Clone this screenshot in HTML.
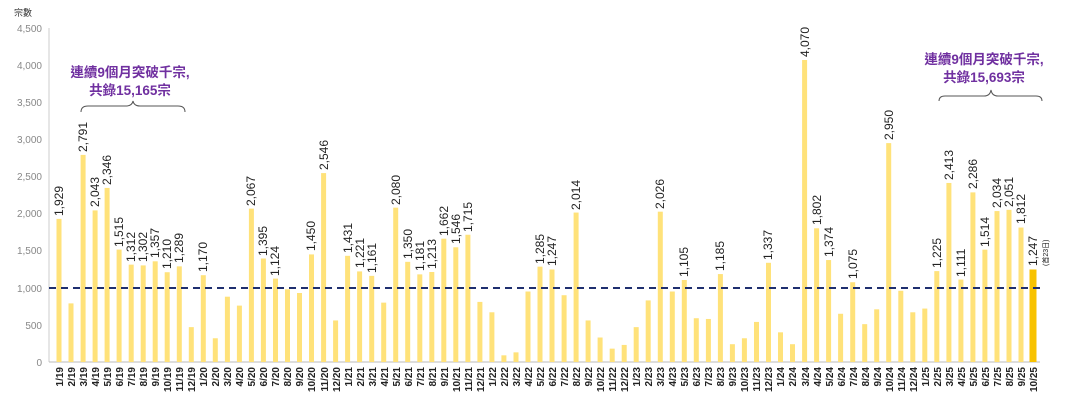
<!DOCTYPE html>
<html><head><meta charset="utf-8"><style>
html,body{margin:0;padding:0;background:#fff;width:1080px;height:420px;overflow:hidden}
svg{display:block;font-family:"Liberation Sans","Noto Sans CJK TC",sans-serif}
.v{font-size:12px;fill:#222;text-anchor:start}
.x{font-size:10px;fill:#222;font-weight:bold;text-anchor:end}
.y{font-size:10px;fill:#888;text-anchor:end}
.a{font-size:13.5px;fill:#7030a0;font-weight:bold;text-anchor:middle}
</style></head><body>
<svg width="1080" height="420" viewBox="0 0 1080 420">
<text x="14" y="16" style="font-size:9px;fill:#333">宗數</text>
<g class="y">
<text x="42" y="32">4,500</text><text x="42" y="69">4,000</text><text x="42" y="106">3,500</text>
<text x="42" y="143">3,000</text><text x="42" y="180">2,500</text><text x="42" y="217">2,000</text>
<text x="42" y="254">1,500</text><text x="42" y="292">1,000</text><text x="42" y="329">500</text>
<text x="42" y="366">0</text></g>
<line x1="49" y1="28" x2="49" y2="362" stroke="#ccc"/>
<line x1="49" y1="362" x2="1040" y2="362" stroke="#bbb"/>
<g transform="translate(0,362) scale(1,-0.0742)" fill="#ffe27a">
<rect x="56.5" width="5" height="1929"/><rect x="68.5" width="5" height="790"/><rect x="80.6" width="5" height="2791"/><rect x="92.6" width="5" height="2043"/><rect x="104.6" width="5" height="2346"/><rect x="116.6" width="5" height="1515"/><rect x="128.7" width="5" height="1312"/><rect x="140.7" width="5" height="1302"/><rect x="152.7" width="5" height="1357"/><rect x="164.7" width="5" height="1210"/><rect x="176.8" width="5" height="1289"/><rect x="188.8" width="5" height="470"/>
<rect x="200.8" width="5" height="1170"/><rect x="212.8" width="5" height="320"/><rect x="224.9" width="5" height="880"/><rect x="236.9" width="5" height="760"/><rect x="248.9" width="5" height="2067"/><rect x="260.9" width="5" height="1395"/><rect x="273" width="5" height="1124"/><rect x="285" width="5" height="980"/><rect x="297" width="5" height="930"/><rect x="309" width="5" height="1450"/><rect x="321.1" width="5" height="2546"/><rect x="333.1" width="5" height="560"/>
<rect x="345.1" width="5" height="1431"/><rect x="357.1" width="5" height="1221"/><rect x="369.2" width="5" height="1161"/><rect x="381.2" width="5" height="800"/><rect x="393.2" width="5" height="2080"/><rect x="405.2" width="5" height="1350"/><rect x="417.3" width="5" height="1181"/><rect x="429.3" width="5" height="1213"/><rect x="441.3" width="5" height="1662"/><rect x="453.3" width="5" height="1546"/><rect x="465.4" width="5" height="1715"/><rect x="477.4" width="5" height="810"/>
<rect x="489.4" width="5" height="670"/><rect x="501.4" width="5" height="90"/><rect x="513.5" width="5" height="130"/><rect x="525.5" width="5" height="950"/><rect x="537.5" width="5" height="1285"/><rect x="549.5" width="5" height="1247"/><rect x="561.6" width="5" height="900"/><rect x="573.6" width="5" height="2014"/><rect x="585.6" width="5" height="560"/><rect x="597.6" width="5" height="330"/><rect x="609.7" width="5" height="180"/><rect x="621.7" width="5" height="230"/>
<rect x="633.7" width="5" height="470"/><rect x="645.7" width="5" height="830"/><rect x="657.8" width="5" height="2026"/><rect x="669.8" width="5" height="950"/><rect x="681.8" width="5" height="1105"/><rect x="693.8" width="5" height="590"/><rect x="705.9" width="5" height="580"/><rect x="717.9" width="5" height="1185"/><rect x="729.9" width="5" height="240"/><rect x="741.9" width="5" height="320"/><rect x="754" width="5" height="540"/><rect x="766" width="5" height="1337"/>
<rect x="778" width="5" height="400"/><rect x="790" width="5" height="240"/><rect x="802.1" width="5" height="4070"/><rect x="814.1" width="5" height="1802"/><rect x="826.1" width="5" height="1374"/><rect x="838.1" width="5" height="650"/><rect x="850.2" width="5" height="1075"/><rect x="862.2" width="5" height="510"/><rect x="874.2" width="5" height="710"/><rect x="886.2" width="5" height="2950"/><rect x="898.3" width="5" height="960"/><rect x="910.3" width="5" height="670"/>
<rect x="922.3" width="5" height="720"/><rect x="934.3" width="5" height="1225"/><rect x="946.4" width="5" height="2413"/><rect x="958.4" width="5" height="1111"/><rect x="970.4" width="5" height="2286"/><rect x="982.4" width="5" height="1514"/><rect x="994.5" width="5" height="2034"/><rect x="1006.5" width="5" height="2051"/><rect x="1018.5" width="5" height="1812"/><rect x="1029.5" width="7" height="1247" fill="#f8c200"/>
</g>
<line x1="49" y1="288" x2="1040" y2="288" stroke="#1f2f6f" stroke-width="2" stroke-dasharray="7,5"/>
<g class="v">
<text transform="translate(63,216) rotate(-90)">1,929</text>
<text transform="translate(87,152) rotate(-90)">2,791</text>
<text transform="translate(99,207) rotate(-90)">2,043</text>
<text transform="translate(111,185) rotate(-90)">2,346</text>
<text transform="translate(123,247) rotate(-90)">1,515</text>
<text transform="translate(135,262) rotate(-90)">1,312</text>
<text transform="translate(147,262) rotate(-90)">1,302</text>
<text transform="translate(159,258) rotate(-90)">1,357</text>
<text transform="translate(171,269) rotate(-90)">1,210</text>
<text transform="translate(183,263) rotate(-90)">1,289</text>
<text transform="translate(207,272) rotate(-90)">1,170</text>
<text transform="translate(255,206) rotate(-90)">2,067</text>
<text transform="translate(267,256) rotate(-90)">1,395</text>
<text transform="translate(279,276) rotate(-90)">1,124</text>
<text transform="translate(315,251) rotate(-90)">1,450</text>
<text transform="translate(328,170) rotate(-90)">2,546</text>
<text transform="translate(352,253) rotate(-90)">1,431</text>
<text transform="translate(364,268) rotate(-90)">1,221</text>
<text transform="translate(376,273) rotate(-90)">1,161</text>
<text transform="translate(400,205) rotate(-90)">2,080</text>
<text transform="translate(412,259) rotate(-90)">1,350</text>
<text transform="translate(424,271) rotate(-90)">1,181</text>
<text transform="translate(436,269) rotate(-90)">1,213</text>
<text transform="translate(448,236) rotate(-90)">1,662</text>
<text transform="translate(460,244) rotate(-90)">1,546</text>
<text transform="translate(472,232) rotate(-90)">1,715</text>
<text transform="translate(544,264) rotate(-90)">1,285</text>
<text transform="translate(556,266) rotate(-90)">1,247</text>
<text transform="translate(580,210) rotate(-90)">2,014</text>
<text transform="translate(664,209) rotate(-90)">2,026</text>
<text transform="translate(688,277) rotate(-90)">1,105</text>
<text transform="translate(724,271) rotate(-90)">1,185</text>
<text transform="translate(772,260) rotate(-90)">1,337</text>
<text transform="translate(809,57) rotate(-90)">4,070</text>
<text transform="translate(821,225) rotate(-90)">1,802</text>
<text transform="translate(833,257) rotate(-90)">1,374</text>
<text transform="translate(857,279) rotate(-90)">1,075</text>
<text transform="translate(893,140) rotate(-90)">2,950</text>
<text transform="translate(941,268) rotate(-90)">1,225</text>
<text transform="translate(953,180) rotate(-90)">2,413</text>
<text transform="translate(965,277) rotate(-90)">1,111</text>
<text transform="translate(977,189) rotate(-90)">2,286</text>
<text transform="translate(989,247) rotate(-90)">1,514</text>
<text transform="translate(1001,208) rotate(-90)">2,034</text>
<text transform="translate(1013,207) rotate(-90)">2,051</text>
<text transform="translate(1025,224) rotate(-90)">1,812</text>
<text transform="translate(1037,266) rotate(-90)">1,247</text>
<text transform="translate(1048,266) rotate(-90)" style="font-size:7px">(首23日)</text>
</g>
<g class="x">
<text transform="translate(63,367) rotate(-90)">1/19</text><text transform="translate(75,367) rotate(-90)">2/19</text><text transform="translate(87,367) rotate(-90)">3/19</text><text transform="translate(99,367) rotate(-90)">4/19</text><text transform="translate(111,367) rotate(-90)">5/19</text><text transform="translate(123,367) rotate(-90)">6/19</text><text transform="translate(135,367) rotate(-90)">7/19</text><text transform="translate(147,367) rotate(-90)">8/19</text><text transform="translate(159,367) rotate(-90)">9/19</text><text transform="translate(171,367) rotate(-90)">10/19</text><text transform="translate(183,367) rotate(-90)">11/19</text><text transform="translate(195,367) rotate(-90)">12/19</text>
<text transform="translate(207,367) rotate(-90)">1/20</text><text transform="translate(219,367) rotate(-90)">2/20</text><text transform="translate(231,367) rotate(-90)">3/20</text><text transform="translate(243,367) rotate(-90)">4/20</text><text transform="translate(255,367) rotate(-90)">5/20</text><text transform="translate(267,367) rotate(-90)">6/20</text><text transform="translate(279,367) rotate(-90)">7/20</text><text transform="translate(291,367) rotate(-90)">8/20</text><text transform="translate(303,367) rotate(-90)">9/20</text><text transform="translate(315,367) rotate(-90)">10/20</text><text transform="translate(328,367) rotate(-90)">11/20</text><text transform="translate(340,367) rotate(-90)">12/20</text>
<text transform="translate(352,367) rotate(-90)">1/21</text><text transform="translate(364,367) rotate(-90)">2/21</text><text transform="translate(376,367) rotate(-90)">3/21</text><text transform="translate(388,367) rotate(-90)">4/21</text><text transform="translate(400,367) rotate(-90)">5/21</text><text transform="translate(412,367) rotate(-90)">6/21</text><text transform="translate(424,367) rotate(-90)">7/21</text><text transform="translate(436,367) rotate(-90)">8/21</text><text transform="translate(448,367) rotate(-90)">9/21</text><text transform="translate(460,367) rotate(-90)">10/21</text><text transform="translate(472,367) rotate(-90)">11/21</text><text transform="translate(484,367) rotate(-90)">12/21</text>
<text transform="translate(496,367) rotate(-90)">1/22</text><text transform="translate(508,367) rotate(-90)">2/22</text><text transform="translate(520,367) rotate(-90)">3/22</text><text transform="translate(532,367) rotate(-90)">4/22</text><text transform="translate(544,367) rotate(-90)">5/22</text><text transform="translate(556,367) rotate(-90)">6/22</text><text transform="translate(568,367) rotate(-90)">7/22</text><text transform="translate(580,367) rotate(-90)">8/22</text><text transform="translate(592,367) rotate(-90)">9/22</text><text transform="translate(604,367) rotate(-90)">10/22</text><text transform="translate(616,367) rotate(-90)">11/22</text><text transform="translate(628,367) rotate(-90)">12/22</text>
<text transform="translate(640,367) rotate(-90)">1/23</text><text transform="translate(652,367) rotate(-90)">2/23</text><text transform="translate(664,367) rotate(-90)">3/23</text><text transform="translate(676,367) rotate(-90)">4/23</text><text transform="translate(688,367) rotate(-90)">5/23</text><text transform="translate(700,367) rotate(-90)">6/23</text><text transform="translate(712,367) rotate(-90)">7/23</text><text transform="translate(724,367) rotate(-90)">8/23</text><text transform="translate(736,367) rotate(-90)">9/23</text><text transform="translate(748,367) rotate(-90)">10/23</text><text transform="translate(760,367) rotate(-90)">11/23</text><text transform="translate(772,367) rotate(-90)">12/23</text>
<text transform="translate(784,367) rotate(-90)">1/24</text><text transform="translate(796,367) rotate(-90)">2/24</text><text transform="translate(809,367) rotate(-90)">3/24</text><text transform="translate(821,367) rotate(-90)">4/24</text><text transform="translate(833,367) rotate(-90)">5/24</text><text transform="translate(845,367) rotate(-90)">6/24</text><text transform="translate(857,367) rotate(-90)">7/24</text><text transform="translate(869,367) rotate(-90)">8/24</text><text transform="translate(881,367) rotate(-90)">9/24</text><text transform="translate(893,367) rotate(-90)">10/24</text><text transform="translate(905,367) rotate(-90)">11/24</text><text transform="translate(917,367) rotate(-90)">12/24</text>
<text transform="translate(929,367) rotate(-90)">1/25</text><text transform="translate(941,367) rotate(-90)">2/25</text><text transform="translate(953,367) rotate(-90)">3/25</text><text transform="translate(965,367) rotate(-90)">4/25</text><text transform="translate(977,367) rotate(-90)">5/25</text><text transform="translate(989,367) rotate(-90)">6/25</text><text transform="translate(1001,367) rotate(-90)">7/25</text><text transform="translate(1013,367) rotate(-90)">8/25</text><text transform="translate(1025,367) rotate(-90)">9/25</text><text transform="translate(1037,367) rotate(-90)">10/25</text>
</g>
<text class="a" x="130" y="77">連續9個月突破千宗,</text>
<text class="a" x="130" y="95">共錄15,165宗</text>
<path d="M81,112 Q81,106 88,106 L126,106 Q132,106 133,101 Q134,106 140,106 L178,106 Q185,106 185,112" fill="none" stroke="#555" stroke-width="1"/>
<text class="a" x="984" y="64">連續9個月突破千宗,</text>
<text class="a" x="984" y="82">共錄15,693宗</text>
<path d="M939,101 Q939,96 945,96 L984,96 Q990,96 991,90 Q992,96 998,96 L1036,96 Q1042,96 1042,101" fill="none" stroke="#555" stroke-width="1"/>
</svg>
</body></html>
